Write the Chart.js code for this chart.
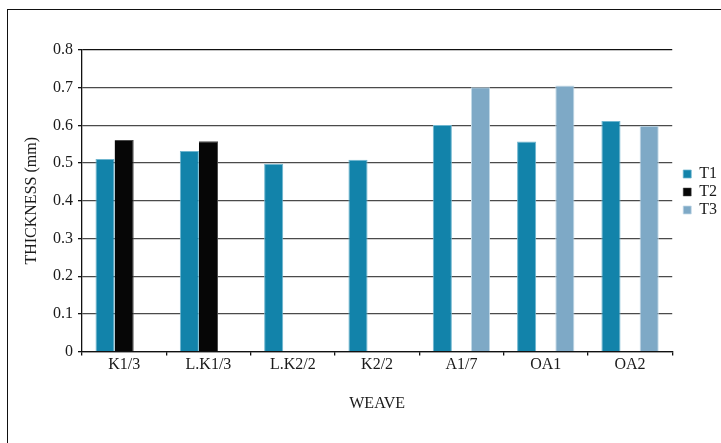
<!DOCTYPE html>
<html>
<head>
<meta charset="utf-8">
<script src="https://cdn.jsdelivr.net/npm/chart.js@4"></script>
<style>
    html, body { margin: 0; padding: 0; background: #fff; }
    #wrap { position: relative; width: 721px; height: 443px; }
    #frame {
        position: absolute; left: 7px; top: 9px; right: 0; bottom: 0;
        border-left: 1.5px solid #111; border-top: 1.5px solid #111;
        pointer-events: none;
    }
    canvas { position: absolute; left: 0; top: 0; }
</style>
</head>
<body>
<div id="wrap">
    <canvas id="thicknessChart" width="721" height="443"></canvas>
    <div id="frame"></div>
</div>
<script>
const weaves = ['K1/3', 'L.K1/3', 'L.K2/2', 'K2/2', 'A1/7', 'OA1', 'OA2'];
const t1 = [0.511, 0.532, 0.498, 0.509, 0.601, 0.557, 0.612];
const t2 = [0.561, 0.558, null, null, null, null, null];
const t3 = [null, null, null, null, 0.701, 0.706, 0.599];
const yTicks = [0, 0.1, 0.2, 0.3, 0.4, 0.5, 0.6, 0.7, 0.8];

const serif = "'Liberation Serif', 'DejaVu Serif', serif";

// nudge the legend block right and down, next to the plot
const legendShift = {
    id: 'legendShift',
    afterLayout(chart) {
        const lg = chart.legend;
        const dx = 9;
        lg.left += dx;
        lg.right += dx;
        const h = lg.bottom - lg.top;
        lg.top = 164;
        lg.bottom = lg.top + h;
    }
};

function initChart() {
    const ctx = document.getElementById('thicknessChart');

    new Chart(ctx, {
        type: 'bar',
        data: {
            labels: weaves,
            datasets: [
                { label: 'T1', data: t1, backgroundColor: '#1283aa', borderColor: '#6fb6cf', borderWidth: { top: 1, left: 1, right: 1, bottom: 0 } },
                { label: 'T2', data: t2, backgroundColor: '#060606', borderColor: '#4a4a4a', borderWidth: { top: 1, left: 0, right: 1, bottom: 0 } },
                { label: 'T3', data: t3, backgroundColor: '#7ea9c6', borderColor: '#c3dae8', borderWidth: { top: 1, left: 1, right: 1, bottom: 0 } }
            ]
        },
        plugins: [legendShift],
        options: {
            responsive: false,
            animation: false,
            layout: { padding: { left: 22, right: 3, top: 50, bottom: 30 } },
            datasets: {
                bar: { categoryPercentage: 0.68, barPercentage: 1.0 }
            },
            plugins: {
                legend: {
                    position: 'right',
                    align: 'start',
                    labels: {
                        font: { family: serif, size: 16 },
                        color: '#1a1a1a',
                        boxWidth: 8,
                        boxHeight: 8,
                        padding: 2
                    }
                },
                tooltip: { enabled: false }
            },
            scales: {
                y: {
                    min: 0,
                    max: 0.8,
                    afterBuildTicks: function(scale) {
                        scale.ticks = yTicks.map(v => ({ value: v }));
                    },
                    afterFit: function(scale) { scale.width = 60; },
                    ticks: {
                        font: { family: serif, size: 16 },
                        color: '#1a1a1a',
                        padding: 5,
                        callback: function(value) {
                            return value === 0 ? '0' : value.toFixed(1);
                        }
                    },
                    grid: {
                        color: function(c) { return c.index === yTicks.length - 1 ? '#111' : '#4a4a4a'; },
                        lineWidth: 1.3,
                        tickLength: 4,
                        tickColor: '#111'
                    },
                    border: { color: '#111', width: 1.3 },
                    title: {
                        display: true,
                        text: 'THICKNESS (mm)',
                        font: { family: serif, size: 16 },
                        color: '#1a1a1a',
                        padding: { top: 0, bottom: 0 }
                    }
                },
                x: {
                    ticks: {
                        font: { family: serif, size: 16 },
                        color: '#1a1a1a',
                        padding: 0
                    },
                    grid: {
                        drawOnChartArea: false,
                        drawTicks: true,
                        tickLength: 4,
                        tickColor: '#111',
                        lineWidth: 1.3
                    },
                    border: { color: '#111', width: 1.3 },
                    title: {
                        display: true,
                        text: 'WEAVE',
                        font: { family: serif, size: 16 },
                        color: '#1a1a1a',
                        padding: { top: 19, bottom: 0 }
                    }
                }
            }
        }
    });
}

document.addEventListener('DOMContentLoaded', initChart);
</script>
</body>
</html>
